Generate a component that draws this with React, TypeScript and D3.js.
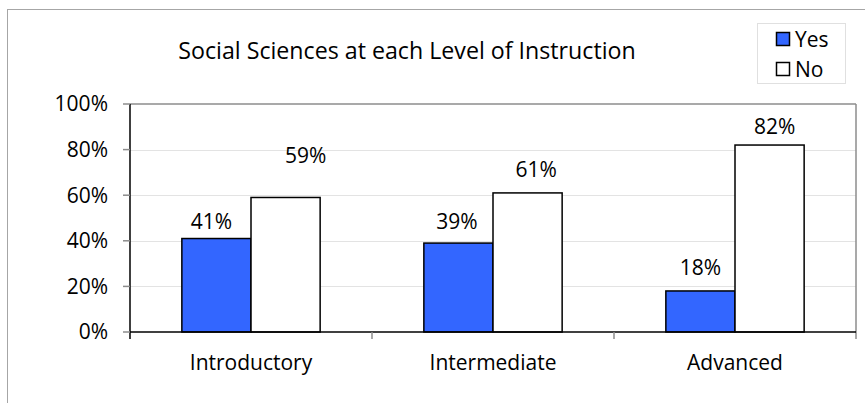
import * as d3 from "d3"

const categories = ["Introductory", "Intermediate", "Advanced"]
const seriesNames = ["Yes", "No"]
const yesValues = [0.41, 0.39, 0.18]
const noValues = [0.59, 0.61, 0.82]
const yTicks = [0, 0.2, 0.4, 0.6, 0.8, 1]
// label nudges in px (dx, dy) from the bar's top centre, as Excel placed them
const yesLabelNudge = [[-5, -17], [-1.5, -22], [0, -23]]
const noLabelNudge = [[20, -42], [8.5, -23], [5, -19]]

const W = 865
const H = 403
const FONT = "'Open Sans', sans-serif"
const FS = 21
const TITLE_FS = 23.2
const CAP = 0.357 * FS // half cap height, used to centre text on a y

const plot = { left: 130, right: 856, top: 104, bottom: 332 }

export default function App() {
  const x = d3
    .scaleBand()
    .domain(categories)
    .range([plot.left, plot.right])
    .paddingInner(0)
    .paddingOuter(0)

  const xSub = d3
    .scaleBand()
    .domain(seriesNames)
    .range([0, x.bandwidth()])
    .paddingInner(0)
    .paddingOuter(0.75)

  const y = d3.scaleLinear().domain([0, 1]).range([plot.bottom, plot.top])

  const colors: Record<string, string> = { Yes: "#3366FF", No: "#FFFFFF" }
  const series = [
    { name: "Yes", values: yesValues, nudge: yesLabelNudge },
    { name: "No", values: noValues, nudge: noLabelNudge },
  ]
  const fmt = d3.format(".0%")

  return (
    <div style={{ position: "fixed", left: 0, top: 0 }}>
      <svg width={W} height={H} style={{ display: "block", background: "#fff" }}>
        {/* chart area border */}
        <rect x={7.5} y={9.5} width={W + 20} height={H + 20} fill="none" stroke="#a6a6a6" strokeWidth={1} />

        {/* title */}
        <text
          x={407}
          y={51 + 0.357 * TITLE_FS}
          textAnchor="middle"
          fontFamily={FONT}
          fontSize={TITLE_FS}
          fill="#000"
        >
          Social Sciences at each Level of Instruction
        </text>

        {/* legend */}
        <rect x={757.5} y={23.5} width={88} height={60} fill="#fff" stroke="#e0e0e0" />
        {series.map((s, i) => (
          <g key={s.name} transform={`translate(0,${39 + i * 30})`}>
            <rect x={776.5} y={-6.5} width={13} height={13} fill={colors[s.name]} stroke="#000" strokeWidth={1.5} />
            <text x={795} y={CAP} fontFamily={FONT} fontSize={FS} fill="#000">
              {s.name}
            </text>
          </g>
        ))}

        {/* gridlines */}
        {yTicks
          .filter((t) => t > 0 && t < 1)
          .map((t) => (
            <line
              key={t}
              x1={plot.left}
              x2={plot.right}
              y1={Math.round(y(t)) + 0.5}
              y2={Math.round(y(t)) + 0.5}
              stroke="#e3e3e3"
              strokeWidth={1}
            />
          ))}

        {/* plot border top / right */}
        <line x1={plot.left} x2={plot.right} y1={plot.top} y2={plot.top} stroke="#8c8c8c" strokeWidth={1.5} />
        <line x1={plot.right} x2={plot.right} y1={plot.top} y2={plot.bottom + 7} stroke="#8c8c8c" strokeWidth={1.5} />

        {/* bars */}
        {series.map((s) =>
          categories.map((c, i) => {
            const bx = (x(c) ?? 0) + (xSub(s.name) ?? 0)
            return (
              <rect
                key={s.name + c}
                x={bx}
                y={y(s.values[i])}
                width={xSub.bandwidth()}
                height={y(0) - y(s.values[i])}
                fill={colors[s.name]}
                stroke="#000"
                strokeWidth={1.5}
              />
            )
          })
        )}

        {/* data labels */}
        {series.map((s) =>
          categories.map((c, i) => {
            const cx = (x(c) ?? 0) + (xSub(s.name) ?? 0) + xSub.bandwidth() / 2
            const [dx, dy] = s.nudge[i]
            return (
              <text
                key={"l" + s.name + c}
                x={cx + dx}
                y={y(s.values[i]) + dy + CAP}
                textAnchor="middle"
                fontFamily={FONT}
                fontSize={FS}
                fill="#000"
              >
                {fmt(s.values[i])}
              </text>
            )
          })
        )}

        {/* y axis */}
        <line x1={plot.left} x2={plot.left} y1={plot.top} y2={plot.bottom + 7} stroke="#000" strokeWidth={1.5} />
        {yTicks.map((t) => (
          <g key={t}>
            <line x1={plot.left - 7} x2={plot.left} y1={y(t)} y2={y(t)} stroke="#8c8c8c" strokeWidth={1.5} />
            <text
              x={108}
              y={y(t) + CAP}
              textAnchor="end"
              fontFamily={FONT}
              fontSize={FS}
              fill="#000"
            >
              {fmt(t)}
            </text>
          </g>
        ))}

        {/* x axis */}
        <line x1={plot.left} x2={plot.right} y1={plot.bottom} y2={plot.bottom} stroke="#000" strokeWidth={1.5} />
        {categories.slice(1).map((c) => (
          <line
            key={"t" + c}
            x1={x(c) ?? 0}
            x2={x(c) ?? 0}
            y1={plot.bottom}
            y2={plot.bottom + 7}
            stroke="#8c8c8c"
            strokeWidth={1.5}
          />
        ))}
        {categories.map((c) => (
          <text
            key={"x" + c}
            x={(x(c) ?? 0) + x.bandwidth() / 2}
            y={362.5 + CAP}
            textAnchor="middle"
            fontFamily={FONT}
            fontSize={FS}
            fill="#000"
          >
            {c}
          </text>
        ))}
      </svg>
    </div>
  )
}
